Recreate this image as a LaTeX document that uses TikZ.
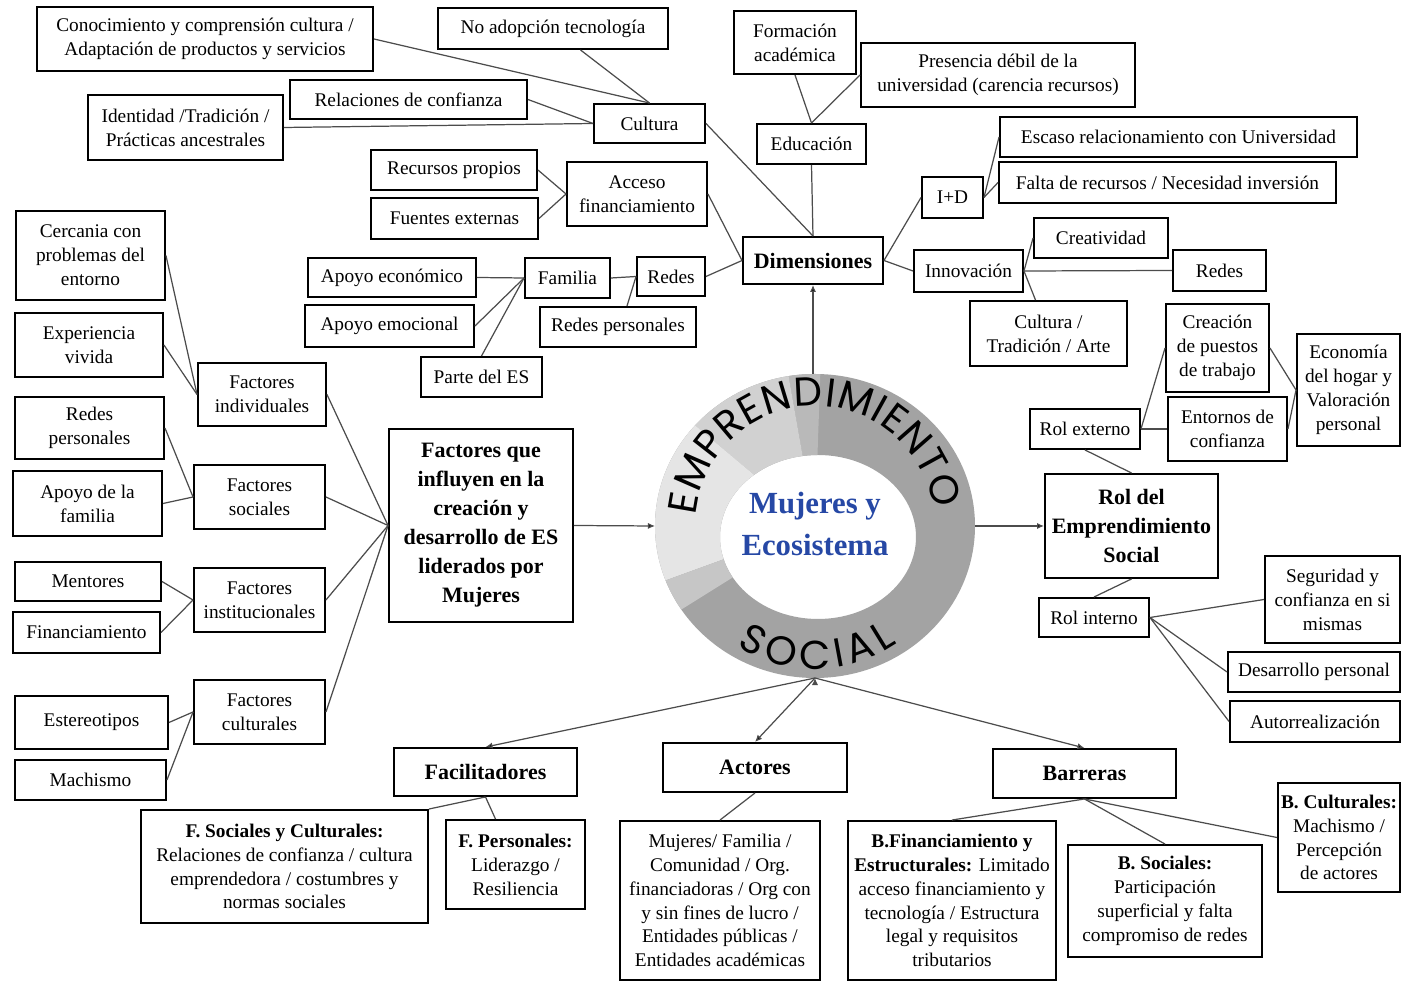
\documentclass[tikz,border=0pt]{standalone}
\usepackage{fontspec}
\setmainfont{Liberation Serif}
\newfontfamily\ringfont{Poppins}
\usetikzlibrary{arrows.meta,decorations.text}
\definecolor{mujblue}{RGB}{38,72,165}
\definecolor{ringdark}{gray}{0.64}
\tikzset{
  box/.style={draw, line width=1.1pt, align=center, inner sep=0pt, font=\fontsize{11}{13.6}\selectfont},
  head/.style={box, font=\bfseries\fontsize{12.5}{16.5}\selectfont},
  wh/.style 2 args={minimum width=#1*0.02cm, minimum height=#2*0.02cm},
  link/.style={draw=black!70, line width=0.7pt},
  arr/.style={link, -{Latex[length=4pt,width=3.5pt]}}
}

\begin{document}
\begin{tikzpicture}[x=0.02cm, y=-0.02cm]
  \useasboundingbox (0,0) rectangle (1401,982);

  \begin{scope}[shift={(815,526)}, y=0.02cm]
    \fill[ringdark, even odd rule] (0,0) ellipse [x radius=160, y radius=152] (3,-11) ellipse [x radius=98, y radius=82];
    \foreach \a/\b/\c in {88/100/55, 100/140/36, 140/200/20, 200/212/45} {
      \begin{scope}
        \clip (0,0) -- (\a:400) -- ({(\a+\b)/2}:400) -- (\b:400) -- cycle;
        \fill[gray!\c, even odd rule] (0,0) ellipse [x radius=160, y radius=152] (3,-11) ellipse [x radius=98, y radius=82];
      \end{scope}
    }
    \path[decorate, decoration={text along path, text align=fit to path,
      text={|\ringfont\fontsize{23}{23}\selectfont|EMPRENDIMIENTO}}]
      (175:120) arc [start angle=175, end angle=8, radius=120];
    \path[decorate, decoration={text along path, text align=fit to path,
      text={|\ringfont\fontsize{23}{23}\selectfont|SOCIAL}}]
      (237:143) arc [start angle=237, end angle=305, radius=143];
  \end{scope}
  \node[text=mujblue, align=center, font=\bfseries\fontsize{17.5}{24}\selectfont] (centro) at (815,524) {Mujeres y\\Ecosistema};
  \coordinate (ringW) at (655,526);
  \coordinate (ringN) at (813,374);
  \coordinate (ringE) at (975,526);
  \coordinate (ringS) at (815,678);

  \node[box] (conocim) [wh={336}{64}] at (205,39) {Conocimiento y comprensión cultura /\\Adaptación de productos y servicios};
  \node[box] (noadop) [wh={230}{41}] at (553,28.5) {No adopción tecnología};
  \node[box] (relconf) [wh={237}{39}] at (408.5,99.5) {Relaciones de confianza};
  \node[box] (identidad) [wh={195}{65}] at (185.5,127.5) {Identidad /Tradición /\\Prácticas ancestrales};
  \node[box] (cultura) [wh={111}{39}] at (649.5,123.5) {Cultura};
  \node[box] (recpropios) [wh={166}{40}] at (454,170) {Recursos propios};
  \node[box] (fuentes) [wh={167}{41}] at (454.5,218.5) {Fuentes externas};
  \node[box] (acceso) [wh={140}{64}] at (637,194) {Acceso\\financiamiento};
  \node[box] (formacion) [wh={122}{63}] at (795,42.5) {Formación\\académica};
  \node[box] (presencia) [wh={274}{64}] at (998,75) {Presencia débil de la\\universidad (carencia recursos)};
  \node[box] (educacion) [wh={109}{40}] at (811.5,144) {Educación};
  \node[head] (dimensiones) [wh={140}{47}] at (813,260.5) {Dimensiones};
  \node[box] (escaso) [wh={357}{40}] at (1178.5,137) {Escaso relacionamiento con Universidad};
  \node[box] (falta) [wh={337}{41}] at (1167.5,182.5) {Falta de recursos / Necesidad inversión};
  \node[box] (imasd) [wh={61}{41}] at (952.5,197.5) {I+D};
  \node[box] (creatividad) [wh={134}{40}] at (1101,238) {Creatividad};
  \node[box] (innovacion) [wh={109}{42}] at (968.5,271) {Innovación};
  \node[box] (redesinn) [wh={93}{41}] at (1219.5,270.5) {Redes};
  \node[box] (cultarte) [wh={157}{65}] at (1048.5,333.5) {Cultura /\\Tradición / Arte};
  \node[box] (creacion) [wh={103}{88}] at (1217.5,348) {Creación\\de puestos\\de trabajo};
  \node[box] (economia) [wh={103}{112}] at (1348.5,390) {Economía\\del hogar y\\Valoración\\personal};
  \node[box] (entornos) [wh={119}{64}] at (1227.5,429) {Entornos de\\confianza};
  \node[box] (rolext) [wh={110}{40}] at (1085,429) {Rol externo};
  \node[head] (rolES) [wh={173}{104}] at (1131.5,526) {Rol del\\Emprendimiento\\Social};
  \node[box] (seguridad) [wh={135}{87}] at (1332.5,599.5) {Seguridad y\\confianza en si\\mismas};
  \node[box] (rolint) [wh={110}{39}] at (1094,617.5) {Rol interno};
  \node[box] (desarrollo) [wh={172}{40}] at (1314,672) {Desarrollo personal};
  \node[box] (autorreal) [wh={170}{41}] at (1315,721.5) {Autorrealización};

  \node[box] (cercania) [wh={149}{89}] at (90.5,255.5) {Cercania con\\problemas del\\entorno};
  \node[box] (experiencia) [wh={148}{64}] at (89,345) {Experiencia\\vivida};
  \node[box] (redespers) [wh={149}{62}] at (89.5,428) {Redes\\personales};
  \node[box] (apoyofam) [wh={149}{65}] at (87.5,503.5) {Apoyo de la\\familia};
  \node[box] (findiv) [wh={128}{63}] at (262,394.5) {Factores\\individuales};
  \node[box] (fsoc) [wh={131}{64}] at (259.5,497) {Factores\\sociales};
  \node[box] (mentores) [wh={146}{39}] at (88,581.5) {Mentores};
  \node[box] (financ) [wh={147}{41}] at (86.5,632.5) {Financiamiento};
  \node[box] (finst) [wh={131}{64}] at (259.5,600) {Factores\\institucionales};
  \node[box] (estereo) [wh={153}{53}] at (91.5,722.5) {Estereotipos};
  \node[box] (machismo) [wh={151}{40}] at (90.5,780) {Machismo};
  \node[box] (fcult) [wh={131}{64}] at (259.5,712) {Factores\\culturales};
  \node[head] (factores) [wh={184}{193}] at (481,525.5) {Factores que\\influyen en la\\creación y\\desarrollo de ES\\liderados por\\Mujeres};

  \node[box] (apoyoeco) [wh={168}{39}] at (392,277.5) {Apoyo económico};
  \node[box] (apoyoemo) [wh={169}{42}] at (389.5,326) {Apoyo emocional};
  \node[box] (familia) [wh={85}{40}] at (567.5,278) {Familia};
  \node[box] (redesmid) [wh={68}{39}] at (671,276.5) {Redes};
  \node[box] (redespmid) [wh={156}{40}] at (618,327) {Redes personales};
  \node[box] (partees) [wh={121}{40}] at (481.5,377) {Parte del ES};

  \node[head] (facilitadores) [wh={183}{48}] at (485.5,772) {Facilitadores};
  \node[head] (actores) [wh={184}{49}] at (755,767.5) {Actores};
  \node[head] (barreras) [wh={183}{49}] at (1084.5,773.5) {Barreras};
  \node[box] (fsoccult) [wh={287}{113}] at (284.5,866.5) {\textbf{F. Sociales y Culturales:}\\Relaciones de confianza / cultura\\emprendedora / costumbres y\\normas sociales};
  \node[box] (fpers) [wh={139}{89}] at (515.5,864.5) {\textbf{F. Personales:}\\Liderazgo /\\Resiliencia};
  \node[box] (actdet) [wh={200}{159}] at (720,900.5) {Mujeres/ Familia /\\Comunidad / Org.\\financiadoras / Org con\\y sin fines de lucro /\\Entidades públicas /\\Entidades académicas};
  \node[box] (bfin) [wh={208}{159}] at (952,900.5) {\textbf{B.Financiamiento y}\\\textbf{Estructurales:} Limitado\\acceso financiamiento y\\tecnología / Estructura\\legal y requisitos\\tributarios};
  \node[box] (bsoc) [wh={194}{112}] at (1165,901) {\textbf{B. Sociales:}\\Participación\\superficial y falta\\compromiso de redes};
  \node[box] (bcult) [wh={122}{109}] at (1339,837.5) {\textbf{B. Culturales:}\\Machismo /\\Percepción\\de actores};

  \path[link]
  (conocim.east) edge (cultura.north)
  ([xshift=0.55cm]noadop.south) edge (cultura.north)
  (relconf.east) edge (cultura.west)
  (identidad.east) edge (cultura.west)
  (cultura.east) edge (dimensiones.north)
  (recpropios.east) edge (acceso.west)
  (fuentes.east) edge (acceso.west)
  (acceso.east) edge (dimensiones.west)
  (redesmid.east) edge (dimensiones.west)
  (familia.east) edge (redesmid.west)
  ([xshift=0.18cm]redespmid.north) edge (redesmid.west)
  (apoyoeco.east) edge (familia.west)
  (apoyoemo.east) edge (familia.west)
  (partees.north) edge (familia.west)
  (formacion.south) edge (educacion.north)
  (presencia.west) edge (educacion.north)
  (educacion.south) edge (dimensiones.north)
  (dimensiones.east) edge (imasd.west)
  (dimensiones.east) edge (innovacion.west)
  (imasd.east) edge (escaso.west)
  (imasd.east) edge (falta.west)
  (innovacion.east) edge (creatividad.west)
  (innovacion.east) edge (redesinn.west)
  (innovacion.east) edge ([xshift=-0.26cm]cultarte.north)
  (rolext.east) edge (creacion.west)
  (rolext.east) edge (entornos.west)
  (creacion.east) edge (economia.west)
  (entornos.east) edge (economia.west)
  (rolext.south) edge (rolES.north)
  (rolES.south) edge (rolint.north)
  (rolint.east) edge (seguridad.west)
  (rolint.east) edge (desarrollo.west)
  (rolint.east) edge (autorreal.west)
  (cercania.east) edge (findiv.west)
  (experiencia.east) edge (findiv.west)
  (redespers.east) edge (fsoc.west)
  (apoyofam.east) edge (fsoc.west)
  (mentores.east) edge (finst.west)
  (financ.east) edge (finst.west)
  (estereo.east) edge (fcult.west)
  (machismo.east) edge (fcult.west)
  (findiv.east) edge (factores.west)
  (fsoc.east) edge (factores.west)
  (finst.east) edge (factores.west)
  (fcult.east) edge (factores.west)
  (facilitadores.south) edge (fsoccult.north east)
  (facilitadores.south) edge ([xshift=-0.4cm]fpers.north)
  (actores.south) edge (actdet.north)
  (barreras.south) edge (bfin.north)
  (barreras.south) edge (bsoc.north)
  (barreras.south) edge (bcult.west)
  ;
  \path[arr]
  (factores.east) edge (ringW)
  (ringN) edge (dimensiones.south)
  (ringE) edge (rolES.west)
  (ringS) edge (facilitadores.north)
  (ringS) edge (actores.north)
  (ringS) edge (barreras.north)
  ;
\end{tikzpicture}
\end{document}
